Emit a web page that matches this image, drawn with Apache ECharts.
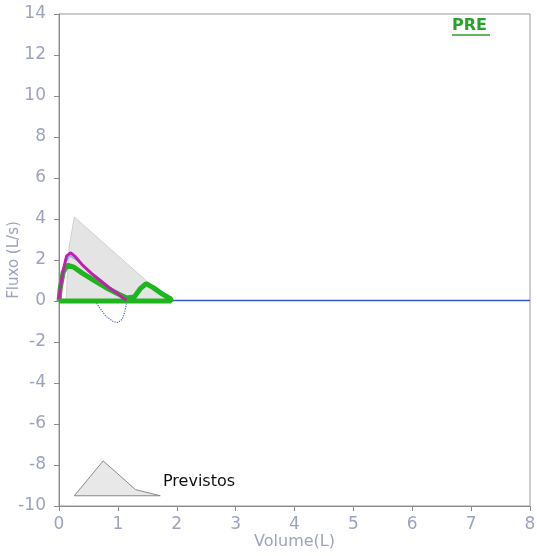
<!DOCTYPE html>
<html><head><meta charset="utf-8">
<script src="https://cdn.jsdelivr.net/npm/echarts@6/dist/echarts.min.js"></script>
<style>html,body{margin:0;padding:0;background:#fff}#c{width:537px;height:556px}</style>
</head><body><div id="c"></div>
<script>
// Ticks
const xTicks = [0,1,2,3,4,5,6,7,8];
const yTicks = [-10,-8,-6,-4,-2,0,2,4,6,8,10,12,14];
// Predicted (gray) area [volume L, flow L/s]
const predicted = [[0.12,0],[0.17,2.6],[0.26,4.1],[1.85,0.05],[1.85,0]];
// Magenta curve
const magenta = [[0.0,0.1],[0.02,0.6],[0.08,1.6],[0.13,2.2],[0.2,2.35],[0.28,2.15],[0.4,1.75],[0.55,1.35],[0.7,1.0],[0.85,0.65],[1.0,0.35],[1.1,0.12],[1.15,0.05]];
// Light blue inner curve
const blueInner = [[0.02,0.3],[0.1,1.8],[0.18,2.2],[0.3,2.0],[0.5,1.5],[0.7,1.05],[0.9,0.6],[1.05,0.25],[1.12,0.05]];
// Green thick curve (expiratory)
const green = [[0.0,0.0],[0.02,0.6],[0.07,1.4],[0.14,1.75],[0.25,1.65],[0.4,1.35],[0.6,1.0],[0.8,0.65],[1.0,0.35],[1.15,0.15],[1.28,0.2],[1.38,0.6],[1.48,0.85],[1.6,0.65],[1.75,0.35],[1.9,0.1],[1.9,0.0],[0.0,0.0]];
// Blue loop below zero
const blueLoop = [[0.62,0.0],[0.68,-0.3],[0.8,-0.75],[0.92,-1.0],[1.0,-1.05],[1.07,-0.9],[1.11,-0.6],[1.14,-0.2],[1.15,0.0]];
// Blue baseline
const baseline = [[0,0.02],[8,0.02]];
// "Previstos" legend icon
const legendIcon = [[0.26,-9.5],[0.75,-7.8],[1.3,-9.2],[1.72,-9.5],[0.26,-9.5]];

const labelColor = '#9ea3bd';
const font = 'DejaVu Sans';
const chart = echarts.init(document.getElementById('c'));
chart.setOption({
  animation:false,
  grid:{left:59,right:7,top:14,bottom:50,show:true,borderColor:'#9a9a9a',borderWidth:1,containLabel:false,outerBoundsMode:'none'},
  xAxis:{type:'value',min:0,max:8,interval:1,name:'Volume(L)',nameLocation:'middle',nameGap:28,nameMoveOverlap:false,
    nameTextStyle:{color:labelColor,fontSize:16,fontFamily:font},
    axisLine:{onZero:false,lineStyle:{color:'#8a8a8a'}},axisTick:{show:true,length:5,lineStyle:{color:'#8a8a8a'}},
    axisLabel:{color:labelColor,fontSize:17,fontFamily:font,margin:10},splitLine:{show:false}},
  yAxis:{type:'value',min:-10,max:14,interval:2,name:'Fluxo (L/s)',nameLocation:'middle',nameGap:37,nameMoveOverlap:false,
    nameTextStyle:{color:labelColor,fontSize:15,fontFamily:font},
    axisLine:{onZero:false,lineStyle:{color:'#8a8a8a'}},axisTick:{show:true,length:5,lineStyle:{color:'#8a8a8a'}},
    axisLabel:{color:labelColor,fontSize:17,fontFamily:font,margin:13},splitLine:{show:false}},
  series:[
    {type:'line',data:predicted,symbol:'none',lineStyle:{color:'#d0d0d0',width:1},areaStyle:{color:'#e4e4e4',opacity:1,origin:0},z:1},
    {type:'line',data:baseline,symbol:'none',lineStyle:{color:'#3b55c8',width:1.5},z:2},
    {type:'line',data:blueLoop,symbol:'none',lineStyle:{color:'#4a6ad0',width:1.2,type:'dotted'},z:3},
    {type:'line',data:blueInner,symbol:'none',lineStyle:{color:'#8fb0e8',width:1.5},z:3},
    {type:'line',data:green,symbol:'none',lineStyle:{color:'#1fb51f',width:5},z:4},
    {type:'line',data:magenta,symbol:'none',lineStyle:{color:'#c21fb0',width:3},z:5},
    {type:'line',data:legendIcon,symbol:'none',lineStyle:{color:'#8a8a8a',width:1},areaStyle:{color:'#e8e8e8',opacity:1,origin:-9.5},z:2}
  ],
  graphic:[
    {type:'text',left:163,top:474,style:{text:'Previstos',fill:'#111',font:'16px "DejaVu Sans"'}},
    {type:'text',left:452,top:18,style:{text:'PRE',fill:'#2aa12a',font:'bold 16px "DejaVu Sans"'}},
    {type:'line',shape:{x1:452,y1:35,x2:490,y2:35},style:{stroke:'#2aa12a',lineWidth:1.5}}
  ]
});
</script></body></html>
